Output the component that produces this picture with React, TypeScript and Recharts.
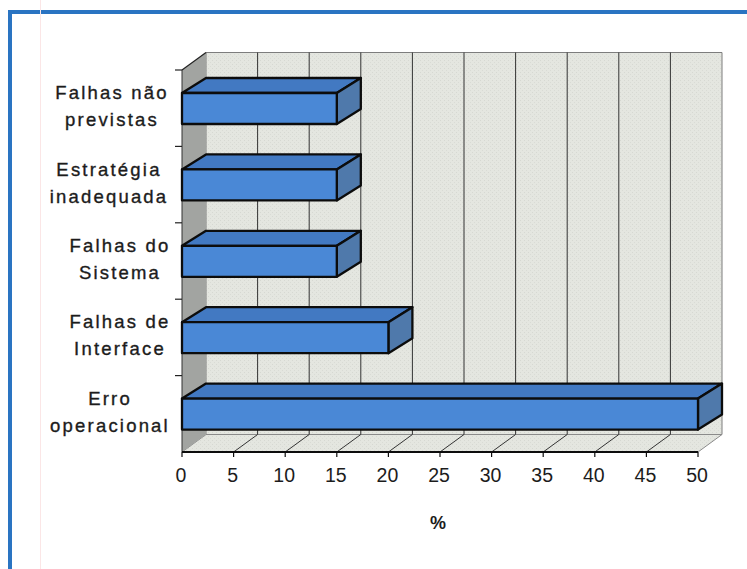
import React from "react";
import { BarChart, Bar, XAxis, YAxis, ReferenceArea } from "recharts";

// Failure causes, listed top to bottom, each wrapped on two lines.
const causes = ["Falhas não previstas", "Estratégia inadequada", "Falhas do Sistema", "Falhas de Interface", "Erro operacional"];
const firstLines = ["Falhas não", "Estratégia", "Falhas do", "Falhas de", "Erro"];
const secondLines = ["previstas", "inadequada", "Sistema", "Interface", "operacional"];
const percentages = [15, 15, 15, 20, 50];
const percentTicks = [0, 5, 10, 15, 20, 25, 30, 35, 40, 45, 50];

const rows = causes.map((cause, i) => ({ cause, percent: percentages[i] }));

// Oblique offset of the pseudo-3D box.
const DEPTH_X = 24;
const WALL_DEPTH_Y = 17.5;
const BAR_DEPTH_Y = 15;
const FONT = '"Liberation Sans", Arial, sans-serif';
const INK = "#0c0c0c";

// Side wall, stippled back wall and floor, grid lines and category tick marks.
function Walls({ x, y, width, height }: any) {
  const bottom = y + height;
  const right = x + width;
  const step = height / causes.length;
  const backTop = y - WALL_DEPTH_Y;
  const backBottom = bottom - WALL_DEPTH_Y;
  const maxTick = percentTicks[percentTicks.length - 1];
  return (
    <g>
      <defs>
        <pattern id="wallStipple" width={4} height={4} patternUnits="userSpaceOnUse">
          <rect width={4} height={4} fill="#e4e6e0" />
          <rect x={0} y={0} width={1} height={1} fill="#d6d8d2" />
          <rect x={2} y={2} width={1} height={1} fill="#d9dbd5" />
        </pattern>
      </defs>
      <polygon points={`${x + DEPTH_X},${backTop} ${right + DEPTH_X},${backTop} ${right + DEPTH_X},${backBottom} ${x + DEPTH_X},${backBottom}`} fill="url(#wallStipple)" stroke="#7d7d7d" strokeWidth={1} />
      <polygon points={`${x},${bottom} ${x + DEPTH_X},${backBottom} ${right + DEPTH_X},${backBottom} ${right},${bottom}`} fill="url(#wallStipple)" stroke="#8a8a8a" strokeWidth={1} />
      <polygon points={`${x},${y} ${x + DEPTH_X},${backTop} ${x + DEPTH_X},${backBottom} ${x},${bottom}`} fill="#a2a4a1" stroke="none" />
      {percentTicks.slice(1, -1).map((t) => {
        const px = x + (width * t) / maxTick;
        return (
          <polyline
            key={t}
            points={`${px},${bottom} ${px + DEPTH_X},${backBottom} ${px + DEPTH_X},${backTop}`}
            fill="none"
            stroke="#333"
            strokeWidth={1}
          />
        );
      })}
      <line x1={x} y1={y} x2={x + DEPTH_X} y2={backTop} stroke="#222" strokeWidth={1.2} />
      <line x1={x} y1={y} x2={x} y2={bottom} stroke="#333" strokeWidth={1} />
      {causes.map((c, i) => (
        <line key={c} x1={x - 7} x2={x} y1={y + i * step} y2={y + i * step} stroke="#222" strokeWidth={1.2} />
      ))}
    </g>
  );
}

// Extruded bar with front, top and end faces.
function BoxBar({ x, y, width, height }: any) {
  const r = x + width;
  const b = y + height;
  const dx = DEPTH_X;
  const dy = BAR_DEPTH_Y;
  return (
    <g stroke={INK} strokeWidth={2.3} strokeLinejoin="round">
      <polygon points={`${x},${y} ${x + dx},${y - dy} ${r + dx},${y - dy} ${r},${y}`} fill="#4279c2" />
      <polygon points={`${r},${y} ${r + dx},${y - dy} ${r + dx},${b - dy} ${r},${b}`} fill="#4f79ab" />
      <rect x={x} y={y} width={width} height={height} fill="#4a88d6" />
    </g>
  );
}

// Two-line category label, centred on its longest line and kept clear of the axis.
const labelCentres = [112, 109, 120, 120, 110];
function CauseTick({ y, index }: any) {
  const style = { fontFamily: FONT, fontSize: 18.5, letterSpacing: 2.2, fill: "#1c1c1c", stroke: "#1c1c1c", strokeWidth: 0.35 };
  return (
    <g>
      <text x={labelCentres[index]} y={y - 9} textAnchor="middle" style={style}>{firstLines[index]}</text>
      <text x={labelCentres[index]} y={y + 18} textAnchor="middle" style={style}>{secondLines[index]}</text>
    </g>
  );
}

export default function App() {
  return (
    <div style={{ position: "absolute", left: 0, top: 0, width: 747, height: 569, background: "#fff", overflow: "hidden" }}>
      {/* Report page frame */}
      <div style={{ position: "absolute", left: 8, top: 10, width: 760, height: 600, boxSizing: "border-box", borderTop: "4px solid #2a74c2", borderLeft: "4px solid #2a74c2" }} />
      <div style={{ position: "absolute", left: 40, top: 0, width: 1, height: 569, background: "#fbe6e6" }} />
      <div style={{ position: "absolute", left: 0, top: 0 }}>
        <BarChart
          width={747}
          height={569}
          data={rows}
          layout="vertical"
          barSize={31}
          margin={{ top: 70, right: 49, bottom: 87, left: 0 }}
        >
          <XAxis
            type="number"
            dataKey="percent"
            domain={[0, 50]}
            ticks={percentTicks}
            interval={0}
            height={30}
            axisLine={{ stroke: INK, strokeWidth: 1.8 }}
            tickLine={{ stroke: INK, strokeWidth: 1.2 }}
            tickSize={5}
            tickMargin={11}
            tick={{ fontFamily: FONT, fontSize: 19.5, fill: "#1c1c1c", dx: -1 }}
            label={{ value: "%", position: "bottom", offset: 34, dx: -2, style: { fontFamily: FONT, fontSize: 18, fontWeight: 700, fill: "#1c1c1c" } }}
          />
          <YAxis type="category" dataKey="cause" width={182} axisLine={false} tickLine={false} tick={<CauseTick />} interval={0} />
          <ReferenceArea x1={0} x2={50} shape={<Walls />} ifOverflow="visible" fillOpacity={1} />
          <Bar dataKey="percent" shape={<BoxBar />} isAnimationActive={false} />
        </BarChart>
      </div>
    </div>
  );
}
